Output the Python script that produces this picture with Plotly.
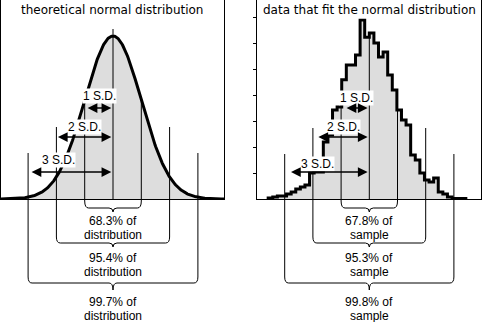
import numpy as np
import plotly.graph_objects as go

W, H = 482, 322

# ---------------- data ----------------
titles = ["theoretical normal distribution", "data that fit the normal distribution"]
sd_levels = [1, 2, 3]
sd_labels = ["1 S.D.", "2 S.D.", "3 S.D."]
sd_marks = [-3, -2, -1, 0, 1, 2, 3]
theory_pct = ["68.3% of", "95.4% of", "99.7% of"]
sample_pct = ["67.8% of", "95.3% of", "99.8% of"]
theory_word = "distribution"
sample_word = "sample"

# theoretical curve parameters (standard normal, x in S.D. units)
norm_mean = 0.0
norm_sd = 1.0

# sample histogram (x in S.D. units, regular bins)
hist_bin_width = 0.163
hist_first_bin = -22
hist_counts = [0.4, 0.8, 1.2, 1.2, 1.9, 2.7, 3.9, 4.6, 5.4, 10.0, 10.4, 10.4,
               22.0, 24.7, 34.4, 35.5, 46.0, 51.7, 51.7, 55.6, 69.1, 62.5,
               64.1, 60.2, 54.8, 56.8, 47.9, 42.1, 34.4, 30.5, 28.6, 17.0,
               15.1, 10.0, 7.3, 6.6, 8.1, 2.7, 1.9, 0.8, 0.2, 0.2, 0.2]
freq_ticks = [10, 20, 30, 40, 50, 60, 70]

# ---------------- layout geometry (pixels) ----------------
FONT_T = "DejaVu Sans"
FONT_L = "Liberation Sans"
GREY = "#dddddd"
BASE = 199  # baseline row


def row(r):
    return 1 - r / H


panels = [
    dict(mean_px=113.0, sd_px=28.3, left=1, right=224, peak_row=36,
         tops={0: 29, 1: 100, 2: 127, 3: 153},
         label_xy=[(-0.46, 96), (-0.99, 127), (-1.91, 160)],
         arrow_start_inset=[0.05, 0.0, 0.07], title_x=112),
    dict(mean_px=369.3, sd_px=28.2, left=257, right=481, peak_row=None,
         tops={0: 32, 1: 97, 2: 128, 3: 154},
         label_xy=[(-0.44, 98), (-0.93, 127), (-1.82, 164)],
         arrow_start_inset=[0.14, 0.14, 0.17], title_x=369),
]

fig = go.Figure()
shapes = []
annotations = []

for i, p in enumerate(panels):
    ya = "y" if i == 0 else "y2"
    xmin = (p["left"] - p["mean_px"]) / p["sd_px"]
    xmax = (p["right"] - p["mean_px"]) / p["sd_px"]
    p["xrange"] = [xmin, xmax]
    fig.update_layout(**{
        ("xaxis" if i == 0 else "xaxis2"): dict(
            domain=[p["left"] / W, p["right"] / W], range=[xmin, xmax],
            showticklabels=False, ticks="", anchor=ya, showgrid=False,
            zeroline=False, showline=True, linecolor="black", linewidth=1),
    })

# left panel: theoretical normal curve
xs = np.linspace(panels[0]["xrange"][0], panels[0]["xrange"][1], 500)
ys = np.exp(-0.5 * ((xs - norm_mean) / norm_sd) ** 2) / (norm_sd * np.sqrt(2 * np.pi))
peak = 1 / (norm_sd * np.sqrt(2 * np.pi))
ymax_left = peak * BASE / (BASE - panels[0]["peak_row"])
fig.add_trace(go.Scatter(x=xs, y=ys, mode="lines", fill="tozeroy",
                         fillcolor=GREY, line=dict(color="black", width=3),
                         xaxis="x", yaxis="y", hoverinfo="skip"))

# right panel: histogram outline
n = len(hist_counts)
edges = [(hist_first_bin + k) * hist_bin_width for k in range(n + 1)]
hx = [edges[0]] + edges + [edges[-1]]
hy = [0] + hist_counts + [hist_counts[-1], 0]
fig.add_trace(go.Scatter(x=hx, y=hy, mode="lines", line_shape="hv",
                         fill="tozeroy", fillcolor=GREY,
                         line=dict(color="black", width=3),
                         xaxis="x2", yaxis="y2", hoverinfo="skip"))
tick_px = 25.9
ymax_right = freq_ticks[0] * BASE / tick_px

ydom = [1 - BASE / H, 1]
fig.update_layout(
    yaxis=dict(domain=ydom, range=[0, ymax_left], showgrid=False, zeroline=False,
               showline=True, mirror=True, linecolor="black", linewidth=1,
               showticklabels=False, ticks="", anchor="x"),
    yaxis2=dict(domain=ydom, range=[0, ymax_right], showgrid=False, zeroline=False,
                showline=True, mirror=True, linecolor="black", linewidth=1,
                showticklabels=False, ticks="outside", ticklen=3, tickwidth=1,
                tickcolor="black", tickvals=freq_ticks, anchor="x2"),
)

brace_rows = {1: (201, 208, 212), 2: (237, 243, 247), 3: (277, 283, 290)}
text_rows = {1: (221, 235), 2: (258, 272), 3: (302, 316)}

for i, p in enumerate(panels):
    xa = "x" if i == 0 else "x2"
    # vertical S.D. lines
    for m in sd_marks:
        k = abs(m)
        top = p["tops"][k]
        bottom = BASE if k == 0 else brace_rows[k][0]
        shapes.append(dict(type="line", xref=xa, yref="paper", x0=m, x1=m,
                           y0=row(top), y1=row(bottom),
                           line=dict(color="black", width=1)))
    # braces
    r = 0.14
    for k in sd_levels:
        bt, bh, tp = brace_rows[k]
        a, b, mid = -k, k, 0
        path = (f"M {a},{row(bt)} Q {a},{row(bh)} {a + r},{row(bh)} "
                f"L {mid - r},{row(bh)} Q {mid},{row(bh)} {mid},{row(tp)} "
                f"Q {mid},{row(bh)} {mid + r},{row(bh)} "
                f"L {b - r},{row(bh)} Q {b},{row(bh)} {b},{row(bt)}")
        shapes.append(dict(type="path", xref=xa, yref="paper", path=path,
                           line=dict(color="black", width=1)))
    # S.D. labels and arrows
    arrow_rows = [108, 137, 172]
    for j, k in enumerate(sd_levels):
        lx, ly = p["label_xy"][j]
        annotations.append(dict(xref=xa, yref="paper", x=lx, y=row(ly),
                                text=sd_labels[j], showarrow=False,
                                font=dict(family=FONT_L, size=12, color="black"),
                                bgcolor="white", borderpad=0,
                                xanchor="center", yanchor="middle"))
        annotations.append(dict(xref=xa, yref="paper", x=-0.06, y=row(arrow_rows[j]),
                                axref=xa, ax=-k + p["arrow_start_inset"][j],
                                ayref="pixel", ay=0, text="", showarrow=True,
                                arrowside="end+start", arrowhead=2, arrowsize=1.3,
                                arrowwidth=1.5, arrowcolor="black",
                                standoff=0, startstandoff=0))
    # bottom percentages
    pct = theory_pct if i == 0 else sample_pct
    word = theory_word if i == 0 else sample_word
    for j, k in enumerate(sd_levels):
        r1, r2 = text_rows[k]
        for txt, rr in ((pct[j], r1), (word, r2)):
            annotations.append(dict(xref=xa, yref="paper", x=0, y=row(rr),
                                    text=txt, showarrow=False, borderpad=0,
                                    font=dict(family=FONT_L, size=12, color="black"),
                                    xanchor="center", yanchor="middle"))
    # title
    annotations.append(dict(xref="paper", yref="paper", x=p["title_x"] / W, y=row(10),
                            text=titles[i], showarrow=False,
                            font=dict(family=FONT_T, size=12, color="black"),
                            xanchor="center", yanchor="middle", bgcolor="white"))

fig.update_layout(width=W, height=H, margin=dict(l=0, r=0, t=0, b=0),
                  paper_bgcolor="white", plot_bgcolor="white", showlegend=False,
                  shapes=shapes, annotations=annotations)
fig.write_html("out.html")
